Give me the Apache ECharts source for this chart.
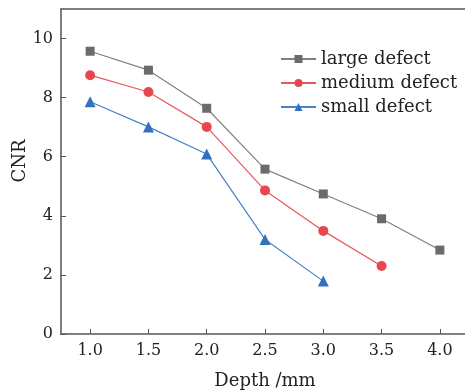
<!DOCTYPE html>
<html>
<head>
<meta charset="utf-8">
<script src="https://cdn.jsdelivr.net/npm/echarts@6/dist/echarts.min.js"></script>
<style>html,body{margin:0;padding:0;background:#fff;overflow:hidden}#c{width:465px;height:391px}</style>
</head>
<body>
<div id="c"></div>
<script>
var depths = [1.0, 1.5, 2.0, 2.5, 3.0, 3.5, 4.0];
var largeDefect = [9.57, 8.93, 7.64, 5.58, 4.74, 3.90, 2.84];
var mediumDefect = [8.76, 8.19, 7.01, 4.86, 3.49, 2.30];
var smallDefect = [7.86, 7.01, 6.09, 3.20, 1.79];
var xTicks = [1.0, 1.5, 2.0, 2.5, 3.0, 3.5, 4.0];
var yTicks = [0, 2, 4, 6, 8, 10];
var seriesNames = ['large defect', 'medium defect', 'small defect'];

function pairs(vals) { return vals.map(function (v, i) { return [depths[i], v]; }); }

var FONT = 'DejaVu Serif';
var axisColor = '#555';
var textColor = '#222';
var chart = echarts.init(document.getElementById('c'));
chart.setOption({
  animation: false,
  grid: { left: 61, top: 9, width: 408, height: 325, show: false,
    containLabel: false, outerBoundsMode: 'none' },
  legend: {
    left: 275, top: 45, orient: 'vertical', itemWidth: 35, itemHeight: 10, itemGap: 6,
    textStyle: { fontFamily: FONT, fontSize: 18, color: textColor },
    data: seriesNames
  },
  graphic: [{
    type: 'text', x: 20, y: 161, rotation: Math.PI / 2,
    style: { text: 'CNR', fontFamily: FONT, fontSize: 18, fill: textColor, align: 'center', verticalAlign: 'middle' }
  }],
  xAxis: [{
    type: 'value', min: 0.75, max: 4.25,
    name: 'Depth /mm', nameLocation: 'middle', nameGap: 38,
    nameTextStyle: { fontFamily: FONT, fontSize: 18, color: textColor },
    axisLine: { lineStyle: { color: axisColor, width: 1.5 } },
    axisTick: { inside: true, length: 5, customValues: xTicks, lineStyle: { color: axisColor } },
    axisLabel: { customValues: xTicks, fontFamily: FONT, fontSize: 16, color: textColor, margin: 9,
      formatter: function (v) { return v.toFixed(1); } },
    splitLine: { show: false }
  }, {
    type: 'value', position: 'top', min: 0.75, max: 4.25,
    axisLine: { show: true, lineStyle: { color: axisColor, width: 1.5 } },
    axisTick: { show: false }, axisLabel: { show: false }, splitLine: { show: false }
  }],
  yAxis: {
    type: 'value', min: 0, max: 11,
    axisLine: { lineStyle: { color: axisColor, width: 1.5 } },
    axisTick: { inside: true, length: 5, customValues: yTicks, lineStyle: { color: axisColor } },
    axisLabel: { customValues: yTicks, fontFamily: FONT, fontSize: 16, color: textColor, margin: 8 },
    splitLine: { show: false }
  },
  series: [
    { name: seriesNames[0], type: 'line', data: pairs(largeDefect), symbol: 'rect', symbolSize: 9,
      itemStyle: { color: '#6b6b6b' }, lineStyle: { color: '#808080', width: 1.2 } },
    { name: seriesNames[1], type: 'line', data: pairs(mediumDefect), symbol: 'circle', symbolSize: 10,
      itemStyle: { color: '#e8474f' }, lineStyle: { color: '#e8575e', width: 1.2 } },
    { name: seriesNames[2], type: 'line', data: pairs(smallDefect), symbol: 'triangle', symbolSize: 11,
      itemStyle: { color: '#3470c0' }, lineStyle: { color: '#4a80c8', width: 1.2 } }
  ]
});
</script>
</body>
</html>
